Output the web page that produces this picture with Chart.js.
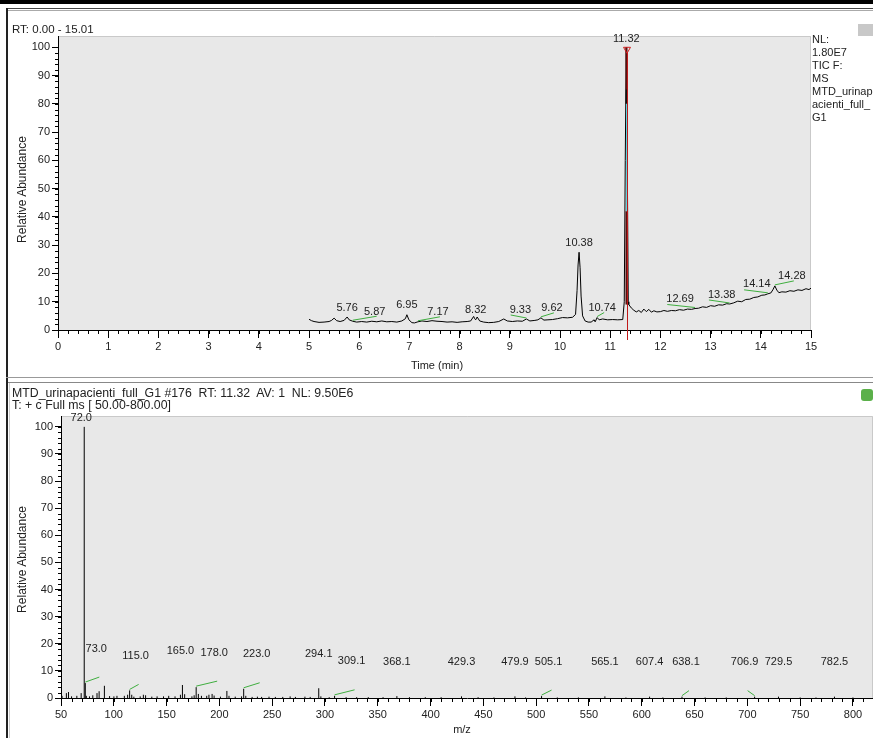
<!DOCTYPE html>
<html><head><meta charset="utf-8">
<script src="https://cdn.jsdelivr.net/npm/chart.js@4.4.1/dist/chart.umd.min.js"></script>
<style>
html,body{margin:0;padding:0;background:#fff;}
body{width:873px;height:738px;position:relative;overflow:hidden;font-family:"Liberation Sans",Arial,sans-serif;font-size:11px;color:#222;}
canvas{position:absolute;left:0;}
.t{position:absolute;white-space:pre;font-size:11px;line-height:13px;color:#222;z-index:3;}
.ln{position:absolute;z-index:2;}
</style></head><body>
<canvas id="c1" width="873" height="376" style="top:0"></canvas>
<canvas id="c2" width="873" height="355" style="top:383px"></canvas>

<div class="ln" style="left:0;top:0;width:873px;height:4px;background:#000"></div>
<div class="ln" style="left:6px;top:8px;width:867px;height:1px;background:#444"></div>
<div class="ln" style="left:6px;top:10px;width:867px;height:1px;background:#aaa"></div>
<div class="ln" style="left:6px;top:8px;width:2px;height:730px;background:#222"></div>
<div class="ln" style="left:6px;top:377px;width:867px;height:1px;background:#999"></div>
<div class="ln" style="left:8px;top:382px;width:865px;height:1px;background:#888"></div>
<div class="ln" style="left:9px;top:383px;width:1px;height:355px;background:#ccc"></div>
<div class="ln" style="left:858px;top:24px;width:15px;height:12px;background:#c8c8c8"></div>
<div class="ln" style="left:861px;top:389px;width:12px;height:12px;background:#5bb04a;border-radius:3px"></div>

<div class="t" style="left:12px;top:23px;font-size:11.5px">RT: 0.00 - 15.01</div>
<div class="t" style="left:812px;top:33px">NL:
1.80E7
TIC F:
MS
MTD_urinap
acienti_full_
G1</div>
<div class="t" style="left:392px;top:359px;width:90px;text-align:center">Time (min)</div>
<div class="t" style="left:-38px;top:183px;width:120px;text-align:center;transform:rotate(-90deg);font-size:12px">Relative Abundance</div>

<div class="t" style="left:12px;top:387px;line-height:12px;font-size:12.3px">MTD_urinapacienti_full_G1 #176  RT: 11.32  AV: 1  NL: 9.50E6
T: + c Full ms [ 50.00-800.00]</div>
<div class="t" style="left:432px;top:723px;width:60px;text-align:center">m/z</div>
<div class="t" style="left:-38px;top:553px;width:120px;text-align:center;transform:rotate(-90deg);font-size:12px">Relative Abundance</div>

<script>
// ---------- TIC chromatogram (top) ----------
const rtMin = [5.00,5.05,5.10,5.20,5.30,5.40,5.45,5.50,5.55,5.62,5.70,5.76,5.80,5.87,5.95,6.05,6.15,6.25,6.35,6.45,6.55,6.65,6.75,6.85,6.92,6.95,6.99,7.05,7.10,7.17,7.25,7.35,7.45,7.55,7.65,7.75,7.85,7.95,8.05,8.15,8.22,8.28,8.30,8.32,8.35,8.40,8.48,8.58,8.68,8.78,8.88,8.95,9.05,9.15,9.25,9.33,9.40,9.50,9.56,9.62,9.68,9.76,9.85,9.95,10.05,10.15,10.25,10.31,10.34,10.36,10.38,10.40,10.42,10.45,10.50,10.56,10.62,10.68,10.70,10.74,10.78,10.85,10.95,11.05,11.15,11.25,11.28,11.30,11.32,11.34,11.36,11.37,11.42,11.47,11.52,11.57,11.62,11.67,11.72,11.77,11.82,11.87,11.93,12.00,12.07,12.14,12.22,12.30,12.38,12.46,12.54,12.62,12.69,12.76,12.84,12.92,13.00,13.08,13.16,13.24,13.32,13.38,13.46,13.54,13.62,13.70,13.78,13.86,13.94,14.02,14.08,14.14,14.20,14.24,14.28,14.32,14.36,14.42,14.50,14.58,14.66,14.74,14.82,14.90,14.96,15.00];
const ticRel = [3.8,3.3,3.0,2.7,2.8,3.0,3.4,4.2,3.3,3.0,3.4,4.6,3.6,3.1,2.8,3.0,2.8,3.1,2.9,3.2,2.9,3.0,2.8,3.2,4.0,5.4,3.6,2.6,2.5,2.9,3.2,3.0,3.3,3.1,3.0,2.8,2.9,2.7,2.9,3.0,3.2,4.8,4.0,3.6,4.6,3.2,2.8,2.6,2.7,3.0,3.9,3.2,3.0,3.2,3.1,3.9,3.2,3.4,3.6,4.3,3.5,3.6,3.7,4.0,4.4,4.3,4.5,5.5,14,23,27.5,22,12,5,3.2,2.8,2.8,3.6,2.9,4.4,3.6,3.9,3.6,3.7,3.6,3.7,10,60,100,60,10,9.0,7.8,7.0,6.4,6.9,6.2,7.4,6.5,7.3,6.3,6.8,6.4,6.5,6.9,6.6,6.9,6.8,7.2,7.0,7.4,7.3,7.6,7.7,8.2,8.0,8.6,8.4,8.9,8.8,9.3,9.2,9.6,10.2,10.0,10.8,10.9,11.5,11.7,12.3,12.4,12.8,13.1,14.2,15.6,14.1,13.2,13.5,13.4,13.9,13.7,14.2,14.0,14.6,14.3,14.8];
const ticPeakRT = [5.76,5.87,6.95,7.17,8.32,9.33,9.62,10.38,10.74,11.32,12.69,13.38,14.14,14.28];
const ticXTicks = [0,1,2,3,4,5,6,7,8,9,10,11,12,13,14,15];
const abundanceTicks = [0,10,20,30,40,50,60,70,80,90,100];

// ---------- Mass spectrum (bottom) ----------
const mzVals = [51.0,55.1,57.1,60.0,65.0,69.1,72.0,73.0,74.0,77.0,80.1,84.1,86.1,91.1,96.0,100.1,103.0,110.0,113.1,115.0,117.0,119.0,125.0,128.0,130.1,136.0,141.0,147.1,152.0,158.0,163.1,165.0,167.1,174.0,176.1,178.0,180.1,183.0,188.0,190.1,193.1,195.0,201.0,207.1,209.1,215.0,221.0,223.0,225.0,231.0,236.0,240.0,247.0,253.0,260.0,267.0,272.0,281.0,286.0,294.1,296.1,304.0,309.1,320.0,330.0,341.0,355.0,368.1,380.0,395.0,410.0,429.3,445.0,460.0,479.9,490.0,505.1,520.0,540.0,565.1,585.0,607.4,620.0,638.1,660.0,680.0,706.9,729.5,750.0,765.0,782.5,800.0];
const mzInt = [0.8,1.8,2.2,0.6,0.8,1.8,100,5.5,0.8,0.6,1.0,1.8,2.5,4.5,0.7,0.6,0.8,0.8,1.2,2.8,1.2,0.5,0.6,1.2,1.0,0.5,0.6,0.6,0.8,0.6,1.2,4.8,1.4,0.6,1.0,4.0,1.5,0.8,0.8,1.2,1.5,0.9,0.5,2.6,0.8,0.5,0.6,3.4,0.8,0.4,0.5,0.4,0.5,0.4,0.4,0.6,0.4,0.5,0.4,3.6,0.6,0.3,0.8,0.3,0.3,0.3,0.3,0.7,0.3,0.3,0.3,0.6,0.3,0.2,0.6,0.2,0.7,0.2,0.2,0.6,0.2,0.5,0.2,0.5,0.2,0.2,0.5,0.5,0.2,0.2,0.5,0.2];
const mzPeakLabels = [72.0,73.0,115.0,165.0,178.0,223.0,294.1,309.1,368.1,429.3,479.9,505.1,565.1,607.4,638.1,706.9,729.5,782.5];
const mzXTicks = [50,100,150,200,250,300,350,400,450,500,550,600,650,700,750,800];

// ---------- styling (not data) ----------
const FONT = '"Liberation Sans", Arial, sans-serif';
const topLabelShift = [0,22,0,20,0,-6,11,0,5,0,-15,-8,-11,17];
const botLabelShift = [-3,11,6,-2,18,13,0,17,0,0,0,7,0,0,4,-10,0,0];

function valueAt(xs, ys, v){ const i = xs.findIndex(x => Math.abs(x - v) < 1e-6); return i >= 0 ? ys[i] : 0; }

function makeDecor(cfg){
  return {
    id: 'decor_' + cfg.name,
    beforeDraw(chart){
      const {ctx, chartArea:a} = chart;
      ctx.save();
      ctx.fillStyle = '#e8e8e8';
      ctx.fillRect(a.left, a.top, a.right - a.left, a.bottom - a.top);
      ctx.strokeStyle = '#c9c9c9'; ctx.lineWidth = 1;
      ctx.beginPath(); ctx.moveTo(a.left + 1, a.top + 0.5); ctx.lineTo(a.right - 0.5, a.top + 0.5); ctx.lineTo(a.right - 0.5, a.bottom); ctx.stroke();
      ctx.restore();
    },
    afterDraw(chart){
      const {ctx, chartArea:a} = chart;
      const xS = chart.scales.x, yS = chart.scales.y;
      ctx.save();
      ctx.strokeStyle = '#000'; ctx.lineWidth = 1;
      ctx.beginPath();
      for (let k = 0; ; k++) {
        const v = cfg.xMin + k * cfg.xMinor;
        if (v > cfg.xMaxTick + 1e-9) break;
        const px = Math.round(xS.getPixelForValue(v)) + 0.5;
        ctx.moveTo(px, a.bottom); ctx.lineTo(px, a.bottom + 4);
      }
      for (let v = 0; v <= 100; v += 2) {
        const py = Math.round(yS.getPixelForValue(v)) + 0.5;
        ctx.moveTo(a.left - 3, py); ctx.lineTo(a.left, py);
      }
      ctx.stroke();
      cfg.extra && cfg.extra(chart);
      ctx.font = '11px ' + FONT; ctx.textAlign = 'center'; ctx.textBaseline = 'bottom';
      cfg.labels.forEach((v, i) => {
        const yv = valueAt(cfg.xs, cfg.ys, v);
        const px = xS.getPixelForValue(v), py = yS.getPixelForValue(yv);
        const txt = v.toFixed(cfg.digits);
        const gap = yv > 50 ? 3 : cfg.gap;
        const lx = px + cfg.shift[i], ly = py - gap;
        ctx.fillStyle = '#222';
        ctx.fillText(txt, lx, ly);
        if (cfg.shift[i] > 2 || cfg.shift[i] < -5) {
          const w = ctx.measureText(txt).width;
          ctx.strokeStyle = '#3fae3f'; ctx.lineWidth = 1;
          ctx.beginPath();
          ctx.moveTo(px, py - 1);
          if (cfg.name === 'top') {
            if (cfg.shift[i] > 0) ctx.lineTo(lx + 2, ly - 1);
            else ctx.lineTo(lx - w / 2 + 1, ly);
          } else {
            ctx.lineTo(lx + 3, py - 6);
          }
          ctx.stroke();
        }
      });
      ctx.restore();
    }
  };
}

function axisCommon(){
  return {
    grid: {drawOnChartArea: false, tickColor: '#000', color: '#000'},
    border: {color: '#000', width: 1},
    ticks: {font: {family: FONT, size: 11}, color: '#222', autoSkip: false, maxRotation: 0, minRotation: 0}
  };
}

function buildChart(canvasId, o){
  const xc = axisCommon(), yc = axisCommon();
  return new Chart(document.getElementById(canvasId), {
    type: 'line',
    data: {datasets: [{data: o.points, borderColor: '#000', borderWidth: 1, pointRadius: 0, tension: 0, spanGaps: false, fill: false}]},
    options: {
      responsive: false, animation: false, devicePixelRatio: 1,
      layout: {padding: o.padding},
      plugins: {legend: {display: false}, tooltip: {enabled: false}},
      scales: {
        x: Object.assign(xc, {
          type: 'linear', min: o.xMin, max: o.xMax,
          afterBuildTicks: s => { s.ticks = o.xTicks.map(v => ({value: v})); },
          afterFit: s => { s.height = o.xHeight; },
          ticks: Object.assign(xc.ticks, {padding: 2, callback: v => String(v)}),
          grid: Object.assign(xc.grid, {tickLength: 8})
        }),
        y: Object.assign(yc, {
          type: 'linear', min: 0, max: o.yMax,
          afterBuildTicks: s => { s.ticks = abundanceTicks.map(v => ({value: v})); },
          afterFit: s => { s.width = 48; },
          ticks: Object.assign(yc.ticks, {padding: 2, callback: v => String(v)}),
          grid: Object.assign(yc.grid, {tickLength: 6})
        })
      }
    },
    plugins: [o.decor]
  });
}

// top chart
const ticPoints = rtMin.map((t, i) => ({x: t, y: ticRel[i]}));
buildChart('c1', {
  points: ticPoints, xMin: 0, xMax: 15, yMax: 104, xTicks: ticXTicks, xHeight: 46,
  padding: {left: 10, right: 62, top: 36, bottom: 0},
  decor: makeDecor({
    name: 'top', xMin: 0, xMaxTick: 15, xMinor: 0.2,
    xs: rtMin, ys: ticRel, labels: ticPeakRT, shift: topLabelShift, gap: 4, digits: 2,
    extra(chart){
      const {ctx, chartArea:a} = chart; const xS = chart.scales.x, yS = chart.scales.y;
      const px = Math.round(xS.getPixelForValue(11.32)) + 0.5;
      const seg = (y1, y2, col, w, dx) => { ctx.strokeStyle = col; ctx.lineWidth = w; ctx.beginPath(); ctx.moveTo(px + dx, yS.getPixelForValue(y1)); ctx.lineTo(px + dx, yS.getPixelForValue(y2)); ctx.stroke(); };
      seg(100, 85, '#5a1010', 2, 0);
      seg(85, 80, '#111', 2, 0);
      seg(80, 42, '#5cd3e0', 2, 0.5);
      seg(42, 9, '#5a1010', 2, 0);
      ctx.strokeStyle = '#c01818'; ctx.lineWidth = 1;
      ctx.beginPath(); ctx.moveTo(px + 1, yS.getPixelForValue(98)); ctx.lineTo(px + 1, a.bottom + 10); ctx.stroke();
      const ty = yS.getPixelForValue(100);
      ctx.beginPath(); ctx.moveTo(px - 3, ty); ctx.lineTo(px + 4, ty); ctx.lineTo(px + 0.5, ty + 6); ctx.closePath();
      ctx.strokeStyle = '#d02020'; ctx.stroke();
    }
  })
});

// bottom chart
const stickPoints = [];
mzVals.forEach((m, i) => { stickPoints.push({x: m, y: 0}, {x: m, y: mzInt[i]}, {x: m, y: null}); });
buildChart('c2', {
  points: stickPoints, xMin: 50, xMax: 819, yMax: 104, xTicks: mzXTicks, xHeight: 40,
  padding: {left: 13, right: 0, top: 33, bottom: 0},
  decor: makeDecor({
    name: 'bot', xMin: 50, xMaxTick: 810, xMinor: 10,
    xs: mzVals, ys: mzInt, labels: mzPeakLabels, shift: botLabelShift, gap: 29, digits: 1
  })
});
</script>
</body></html>
